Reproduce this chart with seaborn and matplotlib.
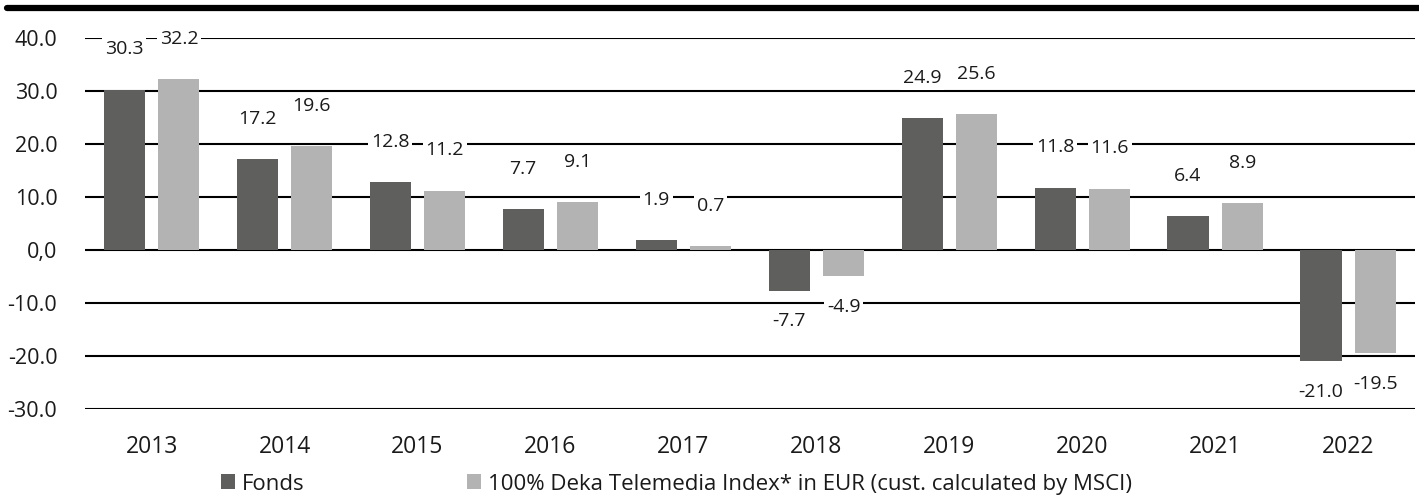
import numpy as np
import pandas as pd
import matplotlib
matplotlib.use("Agg")
import matplotlib.pyplot as plt
import seaborn as sns
from matplotlib.lines import Line2D

# 데이터
years = ["2013", "2014", "2015", "2016", "2017", "2018", "2019", "2020", "2021", "2022"]
fonds = [30.3, 17.2, 12.8, 7.7, 1.9, -7.7, 24.9, 11.8, 6.4, -21.0]
index = [32.2, 19.6, 11.2, 9.1, 0.7, -4.9, 25.6, 11.6, 8.9, -19.5]
series_names = ["Fonds", "100% Deka Telemedia Index* in EUR (cust. calculated by MSCI)"]
y_ticks = [40, 30, 20, 10, 0, -10, -20, -30]
y_tick_labels = ["40.0", "30.0", "20.0", "10.0", "0,0", "-10.0", "-20.0", "-30.0"]

df = pd.DataFrame({
    "year": years * 2,
    "value": fonds + index,
    "series": [series_names[0]] * len(years) + [series_names[1]] * len(years),
})

sns.set_style("white")
plt.rcParams["font.family"] = ["Open Sans", "DejaVu Sans"]

fig = plt.figure(figsize=(14.19, 4.95), dpi=100)
ax = fig.add_axes([0.06, 0.1737, 0.937, 0.7493])

sns.barplot(data=df, x="year", y="value", hue="series",
            palette=["#5f5f5e", "#b3b3b3"], width=0.82, gap=0.245,
            saturation=1, linewidth=0, edgecolor="none", ax=ax, legend=True)

ax.set_axisbelow(True)
ax.set_ylim(-30, 40)
ax.set_xlim(-0.5, 9.5)
ax.set_yticks(y_ticks)
ax.set_yticklabels(y_tick_labels)
for y in y_ticks:
    ax.axhline(y, color="black", lw=1.5, zorder=0)
for s in ax.spines.values():
    s.set_visible(False)
ax.tick_params(axis="both", length=0, colors="#1a1a1a")
ax.tick_params(axis="y", pad=20, labelsize=15.5)
ax.tick_params(axis="x", pad=19, labelsize=16.5)
ax.set_xlabel("")
ax.set_ylabel("")

# 데이터 레이블
for cont in ax.containers:
    for bar in cont:
        h = bar.get_height()
        xc = bar.get_x() + bar.get_width() / 2
        off = 29 if h >= 0 else -22
        ax.annotate(f"{h:.1f}", (xc, h), xytext=(0, off), textcoords="offset points",
                    ha="center", va="center", fontsize=14, color="#1a1a1a",
                    bbox=dict(facecolor="white", edgecolor="none", pad=2),
                    annotation_clip=False, zorder=5)

# 범례
handles, labels = ax.get_legend_handles_labels()
ax.get_legend().remove()
fig.legend(handles, labels, loc="center", bbox_to_anchor=(0.4768, 0.022), ncol=2,
           frameon=False, fontsize=16, handlelength=0.65, handleheight=0.65,
           handletextpad=0.3, columnspacing=7.3, borderaxespad=0,
           labelcolor="#1a1a1a")

# 상단 굵은 선
fig.add_artist(Line2D([0.005, 1.0], [0.984, 0.984], color="black", lw=4.5,
                      transform=fig.transFigure))

fig.savefig("out.png", dpi=100)
